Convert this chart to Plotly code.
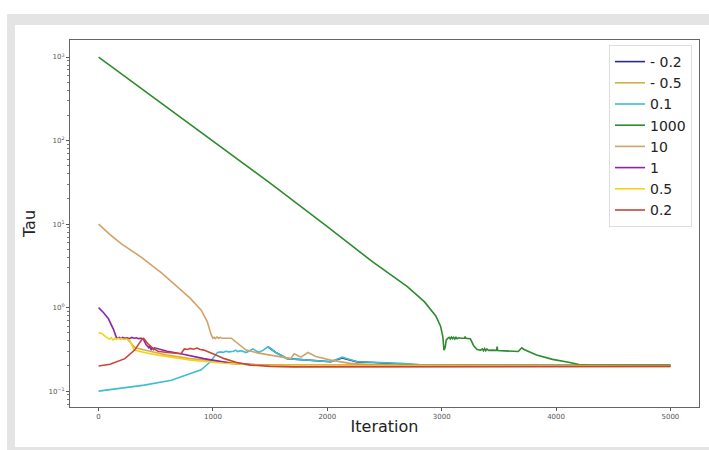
import plotly.graph_objects as go

# Tau trajectories over optimisation iterations, one run per initial value
iter_neg02 = [1480, 1550, 1650, 1800, 2030, 2130, 2260, 2400, 2500, 2600, 2700, 2800, 5000]
tau_neg02 = [0.34, 0.29, 0.245, 0.235, 0.225, 0.25, 0.224, 0.22, 0.218, 0.216, 0.21, 0.205, 0.202]

iter_neg05 = [250, 280, 320, 450, 600, 800, 1000, 1300, 1700, 5000]
tau_neg05 = [0.42, 0.38, 0.33, 0.30, 0.27, 0.245, 0.23, 0.21, 0.20, 0.197]

iter_01 = [0, 200, 400, 636, 800, 897, 970, 1000, 1040, 1070, 1090, 1110, 1140, 1180, 1200,
           1215, 1245, 1290, 1350, 1400, 1440, 1480, 1550, 1650, 1800, 2030, 2130, 2260,
           2400, 2550, 2640, 2800, 3000, 5000]
tau_01 = [0.1, 0.108, 0.118, 0.135, 0.16, 0.18, 0.22, 0.25, 0.29, 0.295, 0.29, 0.3, 0.295,
          0.3, 0.31, 0.298, 0.305, 0.29, 0.32, 0.29, 0.31, 0.34, 0.29, 0.245, 0.235, 0.225,
          0.255, 0.225, 0.222, 0.22, 0.215, 0.208, 0.205, 0.205]

iter_1000 = [0, 500, 1000, 1500, 2000, 2400, 2700, 2850, 2950, 2990, 3010, 3020, 3030, 3040,
             3055, 3065, 3075, 3085, 3095, 3105, 3115, 3125, 3135, 3150, 3170, 3200, 3205,
             3210, 3250, 3280, 3310, 3340, 3355, 3365, 3375, 3385, 3395, 3410, 3440, 3480,
             3485, 3490, 3550, 3620, 3670, 3700, 3720, 3830, 3970, 4120, 4200, 4300, 5000]
tau_1000 = [1000, 316, 100, 31, 9.3, 3.5, 1.78, 1.17, 0.79, 0.6, 0.45, 0.31, 0.33, 0.41,
            0.43, 0.44, 0.42, 0.445, 0.425, 0.44, 0.42, 0.44, 0.425, 0.435, 0.43, 0.43, 0.45,
            0.43, 0.425, 0.35, 0.315, 0.31, 0.32, 0.305, 0.322, 0.305, 0.32, 0.308, 0.31,
            0.308, 0.34, 0.306, 0.303, 0.3, 0.298, 0.33, 0.315, 0.27, 0.24, 0.22, 0.208,
            0.205, 0.205]

iter_10 = [0, 100, 200, 375, 550, 722, 800, 897, 950, 985, 1000, 1010, 1020, 1035, 1050,
           1065, 1080, 1160, 1220, 1290, 1400, 1550, 1680, 1710, 1770, 1830, 1900, 2030,
           2200, 2400, 2700, 5000]
tau_10 = [10, 7.5, 5.8, 4.0, 2.6, 1.62, 1.3, 0.93, 0.68, 0.47, 0.43, 0.44, 0.425, 0.445,
          0.43, 0.44, 0.43, 0.43, 0.37, 0.31, 0.285, 0.26, 0.245, 0.28, 0.255, 0.29, 0.26,
          0.235, 0.215, 0.207, 0.203, 0.203]

iter_1 = [0, 40, 85, 130, 155, 165, 180, 195, 210, 230, 250, 270, 290, 310, 330, 350, 375,
          395, 415, 440, 450, 460, 470, 480, 490, 520, 600, 720, 920, 1160, 1400, 5000]
tau_1 = [1.0, 0.88, 0.74, 0.55, 0.44, 0.43, 0.44, 0.425, 0.44, 0.43, 0.435, 0.425, 0.44,
         0.43, 0.435, 0.425, 0.43, 0.41, 0.36, 0.33, 0.35, 0.31, 0.335, 0.315, 0.33, 0.32,
         0.3, 0.28, 0.245, 0.215, 0.205, 0.2]

iter_05 = [0, 30, 60, 95, 110, 125, 140, 155, 170, 185, 200, 220, 245, 270, 290, 310, 400,
           520, 810, 1100, 1400, 5000]
tau_05 = [0.5, 0.49, 0.45, 0.42, 0.435, 0.41, 0.43, 0.415, 0.43, 0.42, 0.425, 0.415, 0.42,
          0.41, 0.36, 0.31, 0.29, 0.27, 0.235, 0.216, 0.205, 0.2]

iter_02 = [0, 100, 230, 315, 375, 390, 400, 430, 470, 520, 600, 720, 750, 780, 800, 830,
           860, 890, 920, 950, 1000, 1100, 1200, 1330, 1500, 1700, 5000]
tau_02 = [0.2, 0.21, 0.245, 0.31, 0.41, 0.43, 0.42, 0.37, 0.33, 0.3, 0.29, 0.28, 0.32,
          0.315, 0.325, 0.318, 0.328, 0.315, 0.31, 0.3, 0.28, 0.245, 0.222, 0.205, 0.198,
          0.195, 0.198]

series = [
    ("- 0.2", iter_neg02, tau_neg02, "#2b2b8c"),
    ("- 0.5", iter_neg05, tau_neg05, "#d4b040"),
    ("0.1", iter_01, tau_01, "#3cbfd2"),
    ("1000", iter_1000, tau_1000, "#2e8b2e"),
    ("10", iter_10, tau_10, "#d2a26a"),
    ("1", iter_1, tau_1, "#8e24a8"),
    ("0.5", iter_05, tau_05, "#f2d21a"),
    ("0.2", iter_02, tau_02, "#cc4436"),
]

x_ticks = [0, 1000, 2000, 3000, 4000, 5000]
y_ticks = [0.1, 1, 10, 100, 1000]
y_tick_text = ["10<sup>−1</sup>", "10<sup>0</sup>", "10<sup>1</sup>", "10<sup>2</sup>", "10<sup>3</sup>"]
y_minor = [m * 10 ** e for e in (-2, -1, 0, 1, 2, 3) for m in range(2, 10)]

fig = go.Figure()
for name, xs, ys, col in series:
    fig.add_trace(go.Scatter(x=xs, y=ys, name=name, mode="lines",
                             line=dict(color=col, width=1.6)))

W, H = 709, 450
ml, mr, mt, mb = 70, 10, 40, 43
pw, ph = W - ml - mr, H - mt - mb


def px(xp):
    return (xp - ml) / pw


def py(yp):
    return (H - mb - yp) / ph


# grey surround bands: top, left and bottom edges
grey = "#e4e4e4"
for x0, x1, y0, y1 in [(7, 760, 14, 25), (7, 15, 14, 460), (7, 760, 447, 460)]:
    fig.add_shape(type="rect", xref="paper", yref="paper", layer="below",
                  x0=px(x0), x1=px(x1), y0=py(y1), y1=py(y0),
                  fillcolor=grey, line=dict(width=0))

tick_font = dict(family="DejaVu Sans", size=7, color="#555")
fig.update_layout(
    width=W, height=H,
    margin=dict(l=ml, r=mr, t=mt, b=mb),
    paper_bgcolor="white", plot_bgcolor="white",
    font=dict(family="DejaVu Sans"),
    showlegend=True,
    legend=dict(x=px(692), y=py(45), xanchor="right", yanchor="top",
                bgcolor="white", bordercolor="#dddddd", borderwidth=1,
                font=dict(size=14, color="#222"), tracegroupgap=0),
    xaxis=dict(range=[-250, 5250], tickvals=x_ticks, ticks="outside", ticklen=3,
               tickcolor="#555", tickfont=tick_font, showgrid=False, zeroline=False,
               showline=True, linecolor="#666", linewidth=1, mirror=True,
               title=dict(text="Iteration", font=dict(size=16, color="#222"), standoff=0)),
    yaxis=dict(type="log", range=[-1.19, 3.204], tickvals=y_ticks, ticktext=y_tick_text,
               ticks="outside", ticklen=3, tickcolor="#555", tickfont=tick_font,
               minor=dict(tickvals=y_minor, ticks="outside", ticklen=2, tickcolor="#777"),
               showgrid=False, zeroline=False,
               showline=True, linecolor="#666", linewidth=1, mirror=True,
               title=dict(text="Tau", font=dict(size=16, color="#222"), standoff=8)),
)

fig.write_html("out.html")
